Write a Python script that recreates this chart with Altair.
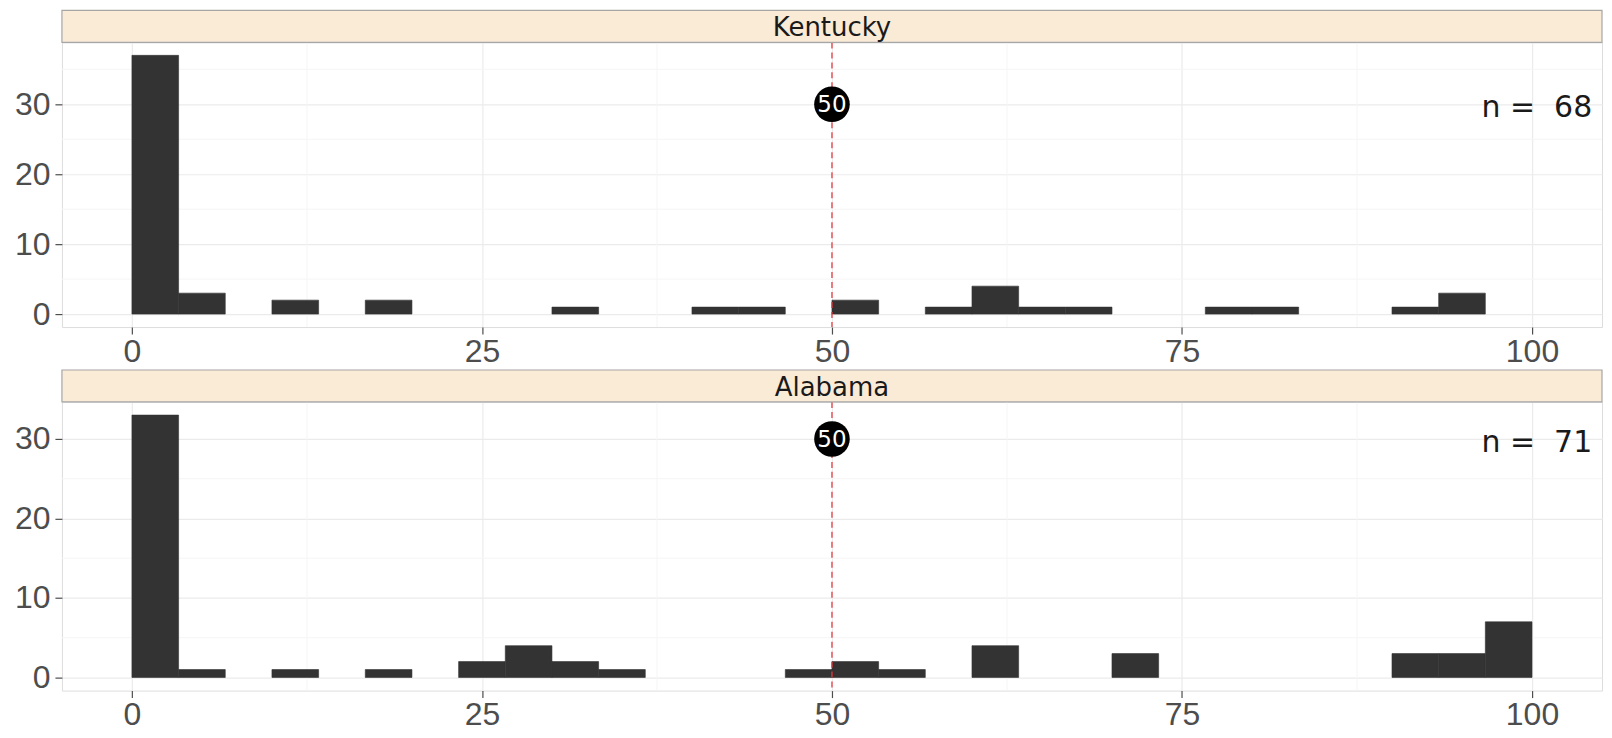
import altair as alt
import pandas as pd

# ---------------- data ----------------
BIN_W = 100 / 30  # histogram bin width

states = ["Kentucky", "Alabama"]
n_values = [68, 71]

ky_bin_lo = [0, 3.333, 10, 16.667, 30, 40, 43.333, 50, 56.667, 60, 63.333, 66.667, 76.667, 80, 90, 93.333]
ky_counts = [37, 3, 2, 2, 1, 1, 1, 2, 1, 4, 1, 1, 1, 1, 1, 3]

al_bin_lo = [0, 3.333, 10, 16.667, 23.333, 26.667, 30, 33.333, 46.667, 50, 53.333, 60, 70, 90, 93.333, 96.667]
al_counts = [33, 1, 1, 1, 2, 4, 2, 1, 1, 2, 1, 4, 3, 3, 3, 7]

x_ticks = [0, 25, 50, 75, 100]
x_minor = [12.5, 37.5, 62.5, 87.5]
y_ticks = [0, 10, 20, 30]
y_minor_top = [5, 15, 25, 35]
y_minor_bottom = [5, 15, 25]

ref_value = 50
marker_y = 30
label_x = 104.3

# ---------------- styling ----------------
W = 1542
SH = 32
FONT = "Liberation Sans"
ANNOT_FONT = "DejaVu Sans"
BORDER = "#A6A6A6"
LABEL_COLOR = "#4D4D4D"
BAR = "#333333"
NBSP = "\u00a0"

X_DOMAIN = [-5, 105]

XAXIS = alt.Axis(values=x_ticks, title=None, labelFontSize=32, labelColor=LABEL_COLOR,
                 tickColor="#4D4D4D", tickSize=7, tickWidth=1.2, labelPadding=2, domain=False,
                 grid=True, gridColor="#EBEBEB", gridWidth=1.2, labelFlush=False, labelFont=FONT)
YAXIS = alt.Axis(values=y_ticks, title=None, labelFontSize=32, labelColor=LABEL_COLOR,
                 tickColor="#4D4D4D", tickSize=7, tickWidth=1.2, labelPadding=5, domain=False,
                 grid=True, gridColor="#EBEBEB", gridWidth=1.2, labelFont=FONT)


def panel(state, lo, counts, n, ydom, y_minor, H):
    xscale = alt.Scale(domain=X_DOMAIN, nice=False, zero=False)
    yscale = alt.Scale(domain=ydom, nice=False, zero=False)
    df = pd.DataFrame({"lo": lo, "hi": [v + BIN_W for v in lo], "count": counts})

    def X(field):
        return alt.X(field, scale=xscale, axis=XAXIS)

    def Y(field):
        return alt.Y(field, scale=yscale, axis=YAXIS)

    sdf = alt.Chart(pd.DataFrame({"s": [state]}))
    strip_rect = sdf.mark_rect(fill="#FAEBD7", stroke=BORDER, strokeWidth=1.2).encode(
        x=alt.value(0), x2=alt.value(W), y=alt.value(-SH), y2=alt.value(0)
    )
    strip_txt = sdf.mark_text(fontSize=26, color="#1A1A1A", baseline="middle", align="center",
                              font=ANNOT_FONT).encode(
        x=alt.value(W / 2), y=alt.value(-SH / 2 + 2), text="s:N"
    )

    minor_x = alt.Chart(pd.DataFrame({"x": x_minor})).mark_rule(color="#F5F5F5", strokeWidth=1).encode(
        x=X("x:Q")
    )
    minor_y = alt.Chart(pd.DataFrame({"y": y_minor})).mark_rule(color="#F5F5F5", strokeWidth=1).encode(
        y=Y("y:Q")
    )
    bars = alt.Chart(df).mark_rect(color=BAR, stroke=BAR, strokeWidth=0.6).encode(
        x=X("lo:Q"),
        x2="hi:Q",
        y=Y("count:Q"),
        y2=alt.datum(0),
    )
    rule = alt.Chart(pd.DataFrame({"x": [ref_value]})).mark_rule(
        color="#E8383D", strokeDash=[6, 4], strokeWidth=1.3
    ).encode(x=X("x:Q"))

    mk = pd.DataFrame({"x": [ref_value], "y": [marker_y], "t": [str(ref_value)]})
    dot = alt.Chart(mk).mark_point(filled=True, color="black", size=1270, opacity=1, shape="circle").encode(
        x=X("x:Q"), y=Y("y:Q")
    )
    dot_txt = alt.Chart(mk).mark_text(color="white", fontSize=23, baseline="middle", align="center",
                                      font=ANNOT_FONT, dy=1).encode(
        x=X("x:Q"), y=Y("y:Q"), text="t:N"
    )
    nl = pd.DataFrame({"x": [label_x], "y": [marker_y], "t": ["n" + NBSP + "=" + NBSP + NBSP + str(n)]})
    n_txt = alt.Chart(nl).mark_text(color="#1A1A1A", fontSize=30, baseline="middle", align="right",
                                    font=ANNOT_FONT, dy=4).encode(
        x=X("x:Q"), y=Y("y:Q"), text="t:N"
    )
    return alt.layer(minor_x, minor_y, bars, rule, dot, dot_txt, n_txt, strip_rect, strip_txt).properties(
        width=W, height=H
    )


top = panel(states[0], ky_bin_lo, ky_counts, n_values[0], [-1.85, 38.85], y_minor_top, 285)
bottom = panel(states[1], al_bin_lo, al_counts, n_values[1], [-1.65, 34.65], y_minor_bottom, 289)

chart = alt.vconcat(top, bottom, spacing=0).properties(
    padding={"left": 5, "top": 0, "right": 0, "bottom": 0}
).configure_view(
    stroke=BORDER, strokeWidth=1.2
).configure(
    font=FONT, background="white"
)

chart.save("out.html", embed_options={"renderer": "svg", "actions": False})
